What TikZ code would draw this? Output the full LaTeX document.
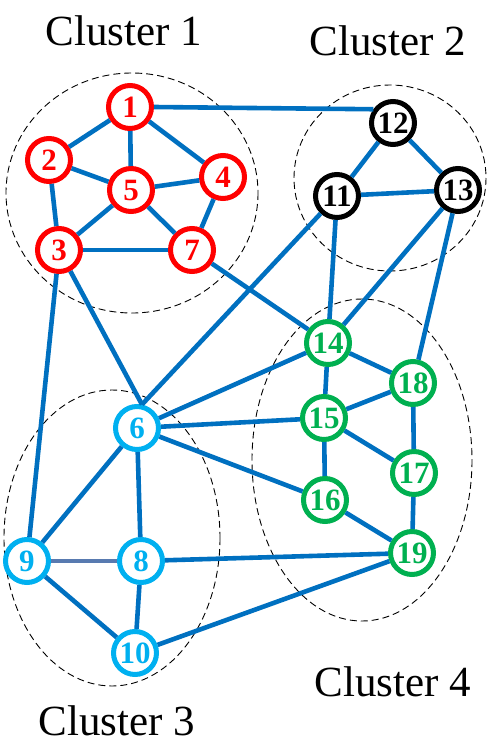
\documentclass[tikz,border=0pt]{standalone}
\usepackage{fontspec}
\setmainfont{Liberation Serif}
\definecolor{cred}{RGB}{255,0,0}
\definecolor{ccyan}{RGB}{0,176,240}
\definecolor{cgreen}{RGB}{0,176,80}
\definecolor{cedge}{RGB}{0,112,192}
\definecolor{cgrayedge}{RGB}{88,122,176}
\tikzset{
  vtx/.style={circle, draw=#1, fill=white, line width=5pt, minimum size=43pt, inner sep=0pt,
    text=#1, font=\fontsize{31}{31}\selectfont\bfseries},
  edge/.style={draw=cedge, line width=4.6pt},
  clus/.style={draw=black, dashed, dash pattern=on 7pt off 4pt, line width=0.9pt},
  clabel/.style={font=\fontsize{43}{43}\selectfont, anchor=base, inner sep=0pt}
}
\begin{document}
\begin{tikzpicture}[x=1pt,y=-1pt]
\useasboundingbox (0,0) rectangle (490,750);
% clusters
\draw[clus] (132,193) ellipse [x radius=126, y radius=120];
\draw[clus] (390,178) ellipse [x radius=96, y radius=93];
\draw[clus] (112,538) ellipse [x radius=108, y radius=148];
\draw[clus] (362,460) ellipse [x radius=110, y radius=161];
% labels
\node[clabel] (L1) at (124,45) {Cluster 1};
\node[clabel] (L2) at (388,55) {Cluster 2};
\node[clabel] (L3) at (117,735) {Cluster 3};
\node[clabel] (L4) at (393,696) {Cluster 4};
% nodes
\node[vtx=cred] (n1) at (130,107) {1};
\node[vtx=cred] (n2) at (49,160) {2};
\node[vtx=cred] (n4) at (223,177) {4};
\node[vtx=cred] (n5) at (131,190) {5};
\node[vtx=cred] (n3) at (59,250) {3};
\node[vtx=cred] (n7) at (192,250) {7};
\node[vtx=black] (n12) at (393,123) {12};
\node[vtx=black] (n11) at (337,196) {11};
\node[vtx=black] (n13) at (458,190) {13};
\node[vtx=ccyan] (n6) at (137,428) {6};
\node[vtx=ccyan] (n9) at (27,561) {9};
\node[vtx=ccyan] (n8) at (141,561) {8};
\node[vtx=ccyan] (n10) at (135,653) {10};
\node[vtx=cgreen] (n14) at (328,343) {14};
\node[vtx=cgreen] (n18) at (413,383) {18};
\node[vtx=cgreen] (n15) at (324,418) {15};
\node[vtx=cgreen] (n17) at (414,473) {17};
\node[vtx=cgreen] (n16) at (325,500) {16};
\node[vtx=cgreen] (n19) at (412,553) {19};
% edges
\draw[edge] (n1.east) -- (n12.145);
\draw[edge] (n1) -- (n2);
\draw[edge] (n1) -- (n5);
\draw[edge] (n1) -- (n4);
\draw[edge] (n2) -- (n5);
\draw[edge] (n2) -- (n3);
\draw[edge] (n5) -- (n4);
\draw[edge] (n5) -- (n3);
\draw[edge] (n5) -- (n7);
\draw[edge] (n4) -- (n7);
\draw[edge] (n3) -- (n7);
\draw[edge] (n3) -- (n9);
\draw[edge] (n3) -- (n6.78);
\draw[edge] (n11) -- (n6.78);
\draw[edge] (n7) -- (n14);
\draw[edge] (n12) -- (n11);
\draw[edge] (n12) -- (n13);
\draw[edge] (n11) -- (n13);
\draw[edge] (n11) -- (n14);
\draw[edge] (n13) -- (n14);
\draw[edge] (n13) -- (n18);
\draw[edge] (n14) -- (n6);
\draw[edge] (n14) -- (n15);
\draw[edge] (n14) -- (n18);
\draw[edge] (n15) -- (n18);
\draw[edge] (n15) -- (n6);
\draw[edge] (n15) -- (n17);
\draw[edge] (n15) -- (n16);
\draw[edge] (n18) -- (n17);
\draw[edge] (n17) -- (n19);
\draw[edge] (n16) -- (n19);
\draw[edge] (n16) -- (n6);
\draw[edge] (n6) -- (n9);
\draw[edge] (n6) -- (n8);
\draw[edge, draw=cgrayedge] (n9) -- (n8);
\draw[edge] (n9) -- (n10);
\draw[edge] (n8) -- (n10);
\draw[edge] (n8) -- (n19);
\draw[edge] (n10) -- (n19);
\end{tikzpicture}
\end{document}
